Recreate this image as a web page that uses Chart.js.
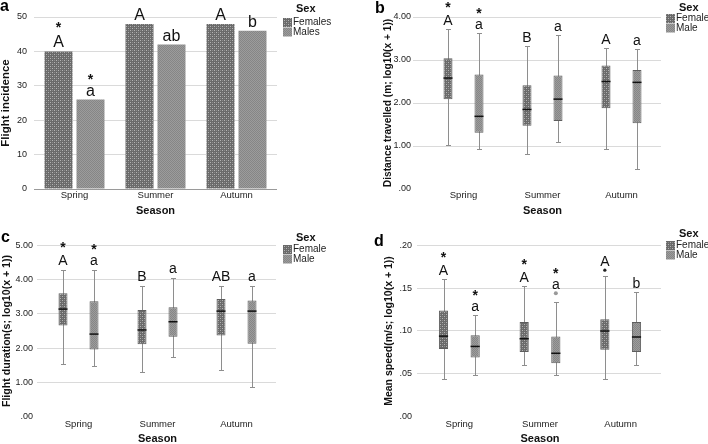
<!DOCTYPE html>
<html>
<head>
<meta charset="utf-8">
<script src="https://cdn.jsdelivr.net/npm/chart.js@4.4.0/dist/chart.umd.min.js"></script>
<style>
  html, body { margin: 0; padding: 0; background: #fff; overflow: hidden; }
  .panel { position: absolute; width: 354px; height: 222px; }
</style>
</head>
<body>
<div class="panel" style="left:0;top:0"><canvas id="chartA"></canvas></div>
<div class="panel" style="left:354px;top:0"><canvas id="chartB"></canvas></div>
<div class="panel" style="left:0;top:222px"><canvas id="chartC"></canvas></div>
<div class="panel" style="left:354px;top:222px"><canvas id="chartD"></canvas></div>
<script>
// Daten
const seasons = ["Spring", "Summer", "Autumn"];

// a: Flight incidence
const incidenceFemales = [40, 48, 48];
const incidenceMales = [26, 42, 46];
const incidenceTicks = [0, 10, 20, 30, 40, 50];
const incidenceLettersF = ["A", "A", "A"];
const incidenceLettersM = ["a", "ab", "b"];
const incidenceStarsF = [true, false, false];
const incidenceStarsM = [true, false, false];

// Boxplots: [min, q1, median, q3, max] pro Saison
// b: Distance travelled
const distanceFemale = [[1.02, 2.09, 2.58, 3.04, 3.72], [0.82, 1.47, 1.85, 2.41, 3.33], [0.93, 1.88, 2.50, 2.87, 3.28]];
const distanceMale = [[0.93, 1.31, 1.69, 2.66, 3.62], [1.09, 1.58, 2.09, 2.64, 3.57], [0.46, 1.53, 2.48, 2.77, 3.26]];
const distanceTicks = [0, 1, 2, 3, 4];
const distanceLettersF = ["A", "B", "A"];
const distanceLettersM = ["a", "a", "a"];
const distanceStarsF = [true, false, false];
const distanceStarsM = [true, false, false];

// c: Flight duration
const durationFemale = [[1.53, 2.66, 3.14, 3.60, 4.28], [1.31, 2.11, 2.53, 3.11, 3.82], [1.37, 2.37, 3.08, 3.43, 3.81]];
const durationMale = [[1.49, 1.96, 2.41, 3.37, 4.27], [1.74, 2.33, 2.77, 3.19, 4.05], [0.86, 2.13, 3.08, 3.39, 3.82]];
const durationTicks = [0, 1, 2, 3, 4, 5];
const durationLettersF = ["A", "B", "AB"];
const durationLettersM = ["a", "a", "a"];
const durationStarsF = [true, false, false];
const durationStarsM = [true, false, false];

// d: Mean speed
const speedFemale = [[0.044, 0.079, 0.094, 0.124, 0.161], [0.060, 0.0755, 0.091, 0.1105, 0.152], [0.044, 0.078, 0.100, 0.1136, 0.1645]];
const speedMale = [[0.049, 0.069, 0.082, 0.095, 0.1185], [0.049, 0.0624, 0.074, 0.0935, 0.134], [0.060, 0.0755, 0.093, 0.1105, 0.146]];
const speedOutliersF = [null, null, 0.171];
const speedOutliersM = [null, 0.144, null];
const speedTicks = [0, 0.05, 0.10, 0.15, 0.20];
const speedLettersF = ["A", "A", "A"];
const speedLettersM = ["a", "a", "b"];
const speedStarsF = [true, true, false];
const speedStarsM = [true, true, false];

const FONT = "'Liberation Sans', Arial, sans-serif";
Chart.defaults.font.family = FONT;
Chart.defaults.animation = false;

// Muster fuer die Fuellungen
function makePattern(kind) {
    const c = document.createElement("canvas");
    c.width = 4; c.height = 4;
    const g = c.getContext("2d");
    if (kind === "female") {
        g.fillStyle = "#6a6a6a"; g.fillRect(0, 0, 4, 4);
        g.fillStyle = "#b4b4b4"; g.fillRect(0, 0, 1, 1); g.fillRect(2, 2, 1, 1);
        g.fillStyle = "#8a8a8a"; g.fillRect(2, 0, 1, 1); g.fillRect(0, 2, 1, 1);
    } else {
        g.fillStyle = "#9c9c9c"; g.fillRect(0, 0, 4, 4);
        g.fillStyle = "#868686";
        for (let i = 0; i < 4; i++) for (let j = 0; j < 4; j++) if ((i + j) % 2 === 0) g.fillRect(i, j, 1, 1);
    }
    return g.createPattern(c, "repeat");
}
const FEMALE = makePattern("female");
const MALE = makePattern("male");

const fmtDec = v => v.toFixed(2).replace(/^0\./, ".");

// Whisker, Median, Ausreisser, Buchstaben, Legende
const boxExtras = {
    id: "boxExtras",
    beforeDatasetsDraw(chart, args, opts) {
        if (!opts.stats) return;
        const ctx = chart.ctx, y = chart.scales.y;
        ctx.save();
        ctx.strokeStyle = "#8e8e8e";
        ctx.lineWidth = 1;
        opts.stats.forEach((group, i) => {
            chart.getDatasetMeta(i).data.forEach((bar, j) => {
                const s = group[j];
                const x = Math.round(bar.x) + 0.5;
                const lo = Math.round(y.getPixelForValue(s[0])) + 0.5;
                const hi = Math.round(y.getPixelForValue(s[4])) + 0.5;
                ctx.beginPath();
                ctx.moveTo(x, lo); ctx.lineTo(x, hi);
                ctx.moveTo(x - 2.5, lo); ctx.lineTo(x + 2.5, lo);
                ctx.moveTo(x - 2.5, hi); ctx.lineTo(x + 2.5, hi);
                ctx.stroke();
            });
        });
        ctx.restore();
    },
    afterDatasetsDraw(chart, args, opts) {
        const ctx = chart.ctx, y = chart.scales.y;
        ctx.save();
        if (opts.stats) {
            ctx.strokeStyle = "#111";
            ctx.lineWidth = 1.5;
            opts.stats.forEach((group, i) => {
                chart.getDatasetMeta(i).data.forEach((bar, j) => {
                    const m = y.getPixelForValue(group[j][2]);
                    ctx.beginPath();
                    ctx.moveTo(bar.x - bar.width / 2, m);
                    ctx.lineTo(bar.x + bar.width / 2, m);
                    ctx.stroke();
                });
            });
        }
        if (opts.outliers) {
            opts.outliers.forEach((list, i) => {
                chart.getDatasetMeta(i).data.forEach((bar, j) => {
                    if (list[j] == null) return;
                    const py = y.getPixelForValue(list[j]);
                    ctx.beginPath();
                    ctx.fillStyle = i === 0 ? "#222" : "#999";
                    ctx.arc(bar.x, py, i === 0 ? 1.6 : 2, 0, Math.PI * 2);
                    ctx.fill();
                });
            });
        }
        // Buchstaben und Sterne
        const a = opts.annot;
        ctx.fillStyle = "#111";
        ctx.textAlign = "center";
        ctx.textBaseline = "alphabetic";
        a.letters.forEach((letters, i) => {
            chart.getDatasetMeta(i).data.forEach((bar, j) => {
                const base = y.getPixelForValue(a.tops[i][j]) - a.gap;
                ctx.font = a.size + "px " + FONT;
                ctx.fillText(letters[j], bar.x, base);
                if (a.stars[i][j]) {
                    const asc = ctx.measureText(letters[j]).actualBoundingBoxAscent;
                    const cy = base - asc - 10;
                    ctx.font = "bold 14px " + FONT;
                    const m = ctx.measureText("*");
                    ctx.fillText("*", bar.x, cy + (m.actualBoundingBoxAscent - m.actualBoundingBoxDescent) / 2);
                }
            });
        });
        ctx.restore();
    },
    afterDraw(chart, args, opts) {
        const ctx = chart.ctx, lg = opts.legend;
        ctx.save();
        // Legende
        ctx.textAlign = "left";
        ctx.textBaseline = "middle";
        ctx.fillStyle = "#111";
        ctx.font = "bold 11px " + FONT;
        ctx.fillText("Sex", lg.x + 13, lg.titleY);
        ctx.font = "10px " + FONT;
        lg.labels.forEach((t, i) => {
            const top = lg.itemsY + i * 9.5;
            ctx.fillStyle = i === 0 ? FEMALE : MALE;
            ctx.fillRect(lg.x, top, 9, 9);
            ctx.fillStyle = "#222";
            ctx.fillText(t, lg.x + 10, top + 4.5);
        });
        // Panel-Buchstabe
        ctx.fillStyle = "#000";
        ctx.font = "bold 16px " + FONT;
        ctx.textBaseline = "alphabetic";
        ctx.fillText(opts.panel.text, opts.panel.x, opts.panel.y);
        ctx.restore();
    }
};

function yAxis(o) {
    return {
        min: o.ticks[0],
        max: o.ticks[o.ticks.length - 1],
        afterBuildTicks: s => { s.ticks = o.ticks.map(v => ({ value: v })); },
        afterFit: s => { s.width = o.width; },
        border: { display: false },
        grid: {
            color: c => (c.tick && c.tick.value === 0) ? o.zeroColor : "#dadada",
            tickColor: c => (c.tick && c.tick.value === 0) ? "rgba(0,0,0,0)" : "#dadada",
            drawTicks: o.tickLen > 0,
            tickLength: o.tickLen
        },
        ticks: { padding: o.pad, color: "#222", font: { size: 9 }, callback: o.fmt },
        title: {
            display: true, text: o.title, color: "#111",
            font: { size: o.titleSize, weight: "bold", lineHeight: 1 },
            padding: { top: o.titleX - o.titleSize / 2, bottom: 0 }
        }
    };
}

function xAxis(height, seasonY, tickPad) {
    return {
        afterFit: s => { s.height = height; },
        grid: { display: false, drawTicks: false },
        border: { display: false },
        ticks: { padding: tickPad, color: "#222", font: { size: 9.5 } },
        title: {
            display: true, text: "Season", color: "#111",
            font: { size: 11, weight: "bold", lineHeight: 1 },
            padding: { top: 0, bottom: 222 - seasonY - 5.5 }
        }
    };
}

function boxDatasets(fem, male) {
    const common = { borderColor: "#5e5e5e", borderWidth: 1, borderSkipped: false, categoryPercentage: 0.785, barPercentage: 0.29 };
    return [
        Object.assign({ label: "Female", data: fem.map(s => [s[1], s[3]]), backgroundColor: FEMALE }, common),
        Object.assign({ label: "Male", data: male.map(s => [s[1], s[3]]), backgroundColor: MALE }, common)
    ];
}

function topsOf(stats, outl) {
    return stats.map((s, j) => (outl && outl[j] != null) ? Math.max(s[4], outl[j]) : s[4]);
}

// a
new Chart(document.getElementById("chartA"), {
    type: "bar",
    data: {
        labels: seasons,
        datasets: [
            { label: "Females", data: incidenceFemales, backgroundColor: FEMALE, borderWidth: 0, categoryPercentage: 0.79, barPercentage: 0.875 },
            { label: "Males", data: incidenceMales, backgroundColor: MALE, borderWidth: 0, categoryPercentage: 0.79, barPercentage: 0.875 }
        ]
    },
    options: {
        responsive: true, maintainAspectRatio: false,
        layout: { padding: { left: 0, right: 354 - 277, top: 17, bottom: 0 } },
        scales: {
            x: xAxis(33, 211, 0.5),
            y: yAxis({ ticks: incidenceTicks, width: 34, tickLen: 0, pad: 7, zeroColor: "#9a9a9a", fmt: v => String(v),
                       title: "Flight incidence", titleSize: 11.5, titleX: 5.5 })
        },
        plugins: {
            legend: { display: false }, tooltip: { enabled: false },
            boxExtras: {
                annot: { letters: [incidenceLettersF, incidenceLettersM], stars: [incidenceStarsF, incidenceStarsM],
                         tops: [incidenceFemales, incidenceMales], size: 16, gap: 4 },
                legend: { x: 283, titleY: 9, itemsY: 18, labels: ["Females", "Males"] },
                panel: { text: "a", x: 0, y: 11 }
            }
        }
    },
    plugins: [boxExtras]
});

// b
new Chart(document.getElementById("chartB"), {
    type: "bar",
    data: { labels: seasons, datasets: boxDatasets(distanceFemale, distanceMale) },
    options: {
        responsive: true, maintainAspectRatio: false,
        layout: { padding: { left: 0, right: 354 - 307, top: 17, bottom: 0 } },
        scales: {
            x: xAxis(33, 211, 1),
            y: yAxis({ ticks: distanceTicks, width: 70, tickLen: 11, pad: 2, zeroColor: "rgba(0,0,0,0)", fmt: fmtDec,
                       title: "Distance travelled (m; log10(x + 1))", titleSize: 10.2, titleX: 34 })
        },
        plugins: {
            legend: { display: false }, tooltip: { enabled: false },
            boxExtras: {
                stats: [distanceFemale, distanceMale],
                annot: { letters: [distanceLettersF, distanceLettersM], stars: [distanceStarsF, distanceStarsM],
                         tops: [topsOf(distanceFemale), topsOf(distanceMale)], size: 14, gap: 4 },
                legend: { x: 312, titleY: 7.5, itemsY: 14, labels: ["Female", "Male"] },
                panel: { text: "b", x: 21, y: 13 }
            }
        }
    },
    plugins: [boxExtras]
});

// c
new Chart(document.getElementById("chartC"), {
    type: "bar",
    data: { labels: seasons, datasets: boxDatasets(durationFemale, durationMale) },
    options: {
        responsive: true, maintainAspectRatio: false,
        layout: { padding: { left: 0, right: 354 - 276, top: 23.3, bottom: 0 } },
        scales: {
            x: xAxis(222 - 194.7, 217, 1.5),
            y: yAxis({ ticks: durationTicks, width: 39, tickLen: 2, pad: 4, zeroColor: "rgba(0,0,0,0)", fmt: fmtDec,
                       title: "Flight duration(s; log10(x + 1))", titleSize: 10.6, titleX: 7 })
        },
        plugins: {
            legend: { display: false }, tooltip: { enabled: false },
            boxExtras: {
                stats: [durationFemale, durationMale],
                annot: { letters: [durationLettersF, durationLettersM], stars: [durationStarsF, durationStarsM],
                         tops: [topsOf(durationFemale), topsOf(durationMale)], size: 14, gap: 5 },
                legend: { x: 283, titleY: 16, itemsY: 23, labels: ["Female", "Male"] },
                panel: { text: "c", x: 1, y: 20 }
            }
        }
    },
    plugins: [boxExtras]
});

// d
new Chart(document.getElementById("chartD"), {
    type: "bar",
    data: { labels: seasons, datasets: boxDatasets(speedFemale, speedMale) },
    options: {
        responsive: true, maintainAspectRatio: false,
        layout: { padding: { left: 0, right: 354 - 307, top: 23.3, bottom: 0 } },
        scales: {
            x: xAxis(222 - 194.7, 217, 1.5),
            y: yAxis({ ticks: speedTicks, width: 65, tickLen: 2, pad: 5, zeroColor: "rgba(0,0,0,0)", fmt: fmtDec,
                       title: "Mean speed(m/s; log10(x + 1))", titleSize: 10.5, titleX: 35 })
        },
        plugins: {
            legend: { display: false }, tooltip: { enabled: false },
            boxExtras: {
                stats: [speedFemale, speedMale],
                outliers: [speedOutliersF, speedOutliersM],
                annot: { letters: [speedLettersF, speedLettersM], stars: [speedStarsF, speedStarsM],
                         tops: [topsOf(speedFemale, speedOutliersF), topsOf(speedMale, speedOutliersM)], size: 14, gap: 4 },
                legend: { x: 312, titleY: 12, itemsY: 19, labels: ["Female", "Male"] },
                panel: { text: "d", x: 20, y: 24 }
            }
        }
    },
    plugins: [boxExtras]
});
</script>
</body>
</html>
